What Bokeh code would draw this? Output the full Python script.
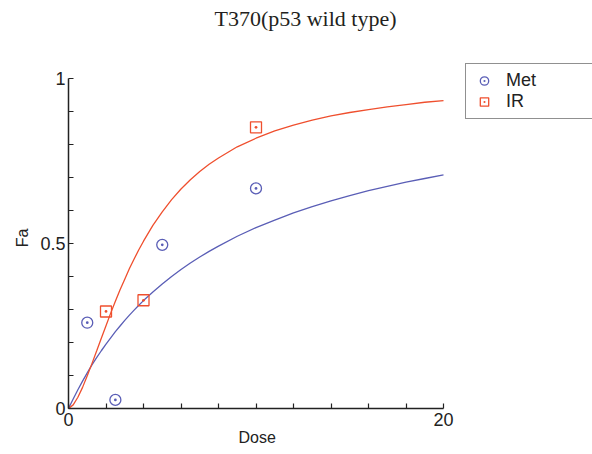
from bokeh.plotting import figure
from bokeh.models import Range1d, FixedTicker, Label, Legend, LegendItem
from bokeh.embed import file_html
from bokeh.resources import INLINE

# Observed data points
met_dose = [1, 2.5, 5, 10]
met_fa = [0.26, 0.026, 0.496, 0.667]
ir_dose = [2, 4, 10]
ir_fa = [0.294, 0.328, 0.852]

# Fitted curves
curve_dose = [0, 0.25, 0.5, 0.75, 1, 1.25, 1.5, 1.75, 2, 2.25, 2.5, 2.75, 3,
              3.25, 3.5, 3.75, 4, 4.5, 5, 5.5, 6, 6.5, 7, 7.5, 8, 9,
              10, 11, 12, 13, 14, 15, 16, 17, 18, 19, 20]
met_curve = [0, 0.029, 0.057, 0.083, 0.108, 0.132, 0.154, 0.175, 0.195, 0.214,
             0.233, 0.250, 0.267, 0.283, 0.298, 0.313, 0.327, 0.353, 0.377,
             0.400, 0.421, 0.441, 0.459, 0.476, 0.492, 0.522, 0.548, 0.571,
             0.593, 0.612, 0.629, 0.645, 0.660, 0.673, 0.686, 0.697, 0.708]
ir_curve = [0, 0.011, 0.034, 0.064, 0.099, 0.136, 0.174, 0.213, 0.251, 0.289,
            0.325, 0.360, 0.392, 0.424, 0.453, 0.481, 0.507, 0.555, 0.596,
            0.633, 0.665, 0.693, 0.718, 0.740, 0.759, 0.793, 0.819, 0.841,
            0.859, 0.874, 0.887, 0.897, 0.906, 0.914, 0.921, 0.928, 0.933]

x_major = [0, 20]
x_minor = [2, 4, 6, 8, 10, 12, 14, 16, 18]
y_major = [0, 0.5, 1]
y_minor = [0.1, 0.2, 0.3, 0.4, 0.6, 0.7, 0.8, 0.9]
y_labels = {0: "0", 0.5: "0.5", 1: "1"}

title_text = "T370(p53 wild type)"
x_title = "Dose"
y_title = "Fa"

BLUE = "#5a5eb6"
RED = "#ef4f2e"
AX = "#222222"
FONT = "Liberation Sans"
NBSP = "\u00a0"

# layout in pixels: axes box from x=68..443, y=78..408 in a 592x454 canvas
W, H = 592, 454
LEFT, BOTTOM = 68, 46
AX_W, AX_H = 375, 330
frame_w = W - LEFT
frame_h = H - BOTTOM
x_end = 20 * frame_w / AX_W
y_end = 1 * frame_h / AX_H

p = figure(width=W, height=H, output_backend="svg", toolbar_location=None,
           x_range=Range1d(0, x_end), y_range=Range1d(0, y_end),
           min_border_left=LEFT, min_border_right=0, min_border_top=0,
           min_border_bottom=BOTTOM)
p.outline_line_color = None
p.xgrid.visible = False
p.ygrid.visible = False

for ax in (p.xaxis[0], p.yaxis[0]):
    ax.axis_line_color = AX
    ax.axis_line_width = 1.5
    ax.major_tick_line_color = AX
    ax.minor_tick_line_color = AX
    ax.major_tick_line_width = 1.2
    ax.minor_tick_line_width = 1.2
    ax.major_tick_in = 5
    ax.major_tick_out = 0
    ax.minor_tick_in = 5
    ax.minor_tick_out = 0
    ax.major_label_text_font = FONT
    ax.major_label_text_font_size = "18px"
    ax.major_label_text_color = AX
    ax.axis_label_text_font = FONT
    ax.axis_label_text_font_size = "16px"
    ax.axis_label_text_font_style = "normal"
    ax.axis_label_text_color = AX

p.xaxis.bounds = (0, 20)
p.yaxis.bounds = (0, 1)
p.xaxis.ticker = FixedTicker(ticks=x_major, minor_ticks=x_minor)
p.yaxis.ticker = FixedTicker(ticks=y_major, minor_ticks=y_minor)
p.yaxis.major_label_overrides = y_labels
# trailing no-break spaces re-centre the axis titles under the axis box
p.xaxis.axis_label = x_title + NBSP * 33
p.yaxis.axis_label = y_title + NBSP * 15
p.xaxis.major_label_standoff = 4
p.xaxis.axis_label_standoff = 0
p.yaxis.major_label_standoff = 3
p.yaxis.axis_label_standoff = 6

p.line(curve_dose, met_curve, line_color=BLUE, line_width=1.3)
p.line(curve_dose, ir_curve, line_color=RED, line_width=1.3)
r_met = p.scatter(met_dose, met_fa, marker="circle_dot", size=11,
                  fill_color=None, line_color=BLUE, line_width=1.3)
r_ir = p.scatter(ir_dose, ir_fa, marker="square_dot", size=11,
                 fill_color=None, line_color=RED, line_width=1.3)

legend = Legend(items=[LegendItem(label="Met", renderers=[r_met]),
                       LegendItem(label="IR", renderers=[r_ir])],
                location=(397, 289), margin=0, padding=6, spacing=0,
                label_height=21, glyph_height=21, glyph_width=24,
                label_standoff=10, label_width=80,
                label_text_font=FONT, label_text_font_size="18px",
                label_text_color=AX,
                border_line_color=AX, border_line_width=1.5,
                background_fill_color="white", background_fill_alpha=1)
p.add_layout(legend)

p.add_layout(Label(x=237, y=390, x_units="screen", y_units="screen",
                   text=title_text, text_align="center",
                   text_baseline="alphabetic", text_font="Liberation Serif",
                   text_font_size="22px", text_color="#231f20"))

open("out.html", "w").write(file_html(p, INLINE))
